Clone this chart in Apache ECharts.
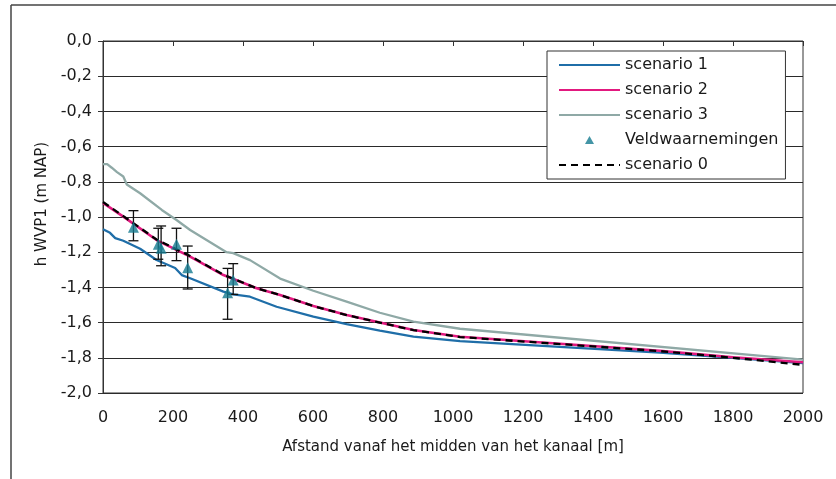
<!DOCTYPE html>
<html>
<head>
<meta charset="utf-8">
<script src="https://cdn.jsdelivr.net/npm/echarts@6/dist/echarts.min.js"></script>
<style>
html,body{margin:0;padding:0;background:#fff;}
#chart{width:836px;height:479px;}
</style>
</head>
<body>
<div id="chart"></div>
<script>
// ---- data (distance in m, head in m NAP) ----
const scenario1X = [0, 20, 35, 58, 106, 153, 206, 225, 249, 344, 372, 420, 496, 601, 696, 791, 887, 1020, 1591, 1800, 2000];
const scenario1Y = [-1.07, -1.09, -1.12, -1.135, -1.18, -1.244, -1.29, -1.33, -1.348, -1.424, -1.44, -1.453, -1.51, -1.566, -1.608, -1.646, -1.68, -1.705, -1.771, -1.80, -1.83];

const scenario2X = [0, 58, 153, 249, 344, 439, 506, 601, 696, 791, 887, 1020, 1591, 1800, 2000];
const scenario2Y = [-0.92, -0.998, -1.131, -1.225, -1.33, -1.405, -1.443, -1.506, -1.557, -1.60, -1.642, -1.68, -1.76, -1.797, -1.825];

const scenario3X = [0, 12, 25, 40, 58, 68, 106, 168, 210, 249, 353, 372, 420, 506, 601, 696, 791, 887, 1020, 2000];
const scenario3Y = [-0.70, -0.70, -0.72, -0.745, -0.77, -0.815, -0.865, -0.96, -1.017, -1.074, -1.20, -1.205, -1.245, -1.35, -1.419, -1.481, -1.544, -1.595, -1.635, -1.81];

const scenario0X = [0, 58, 153, 249, 344, 439, 506, 601, 696, 791, 887, 1020, 1591, 1800, 2000];
const scenario0Y = [-0.915, -0.995, -1.128, -1.222, -1.328, -1.405, -1.443, -1.506, -1.557, -1.60, -1.643, -1.682, -1.762, -1.80, -1.84];

const obsX    = [87, 158, 166, 210, 242, 356, 372];
const obsY    = [-1.058, -1.155, -1.178, -1.155, -1.288, -1.43, -1.358];
const obsHigh = [-0.964, -1.064, -1.051, -1.064, -1.165, -1.292, -1.265];
const obsLow  = [-1.135, -1.24, -1.277, -1.248, -1.409, -1.581, -1.44];

const xTicks = [0, 200, 400, 600, 800, 1000, 1200, 1400, 1600, 1800, 2000];
const yTicks = [0, -0.2, -0.4, -0.6, -0.8, -1.0, -1.2, -1.4, -1.6, -1.8, -2.0];

const seriesNames = ['scenario 1', 'scenario 2', 'scenario 3', 'Veldwaarnemingen', 'scenario 0'];
const xAxisName = 'Afstand vanaf het midden van het kanaal [m]';
const yAxisName = 'h WVP1 (m NAP)';

// ---- build ----
const zip = (xs, ys) => xs.map((x, i) => [x, ys[i]]);
const FONT = '"DejaVu Sans", "Open Sans", sans-serif';
const TXT = '#1a1a1a';
const hideSym = {opacity: 0};
// small centred triangle inside a 61x8 icon box (degenerate corner points fix the box size)
const triIcon = 'path://M0,0L0,0M61,8L61,8M26,8L30.5,0L35,8Z';

const chart = echarts.init(document.getElementById('chart'), null, {renderer: 'canvas'});

const option = {
  backgroundColor: '#ffffff',
  animation: false,
  textStyle: {fontFamily: FONT},
  graphic: [
    {type: 'line', shape: {x1: 11, y1: 5, x2: 840, y2: 5}, style: {stroke: '#444', lineWidth: 1.5}, silent: true},
    {type: 'line', shape: {x1: 11, y1: 5, x2: 11, y2: 485}, style: {stroke: '#444', lineWidth: 1.5}, silent: true},
    {type: 'text', x: 42, y: 204, rotation: Math.PI / 2, silent: true,
      style: {text: yAxisName, font: '15px "DejaVu Sans", sans-serif', fill: TXT,
        textAlign: 'center', textVerticalAlign: 'middle'}}
  ],
  grid: {
    left: 103, right: 33, top: 41, bottom: 86,
    show: true, borderColor: '#333', borderWidth: 1, backgroundColor: 'transparent'
  },
  legend: {
    orient: 'vertical',
    left: 547, top: 51,
    padding: [6, 7, 6, 11],
    itemWidth: 61, itemHeight: 8, itemGap: 9,
    backgroundColor: '#fff',
    borderColor: '#333', borderWidth: 1,
    textStyle: {fontFamily: FONT, fontSize: 16, color: TXT},
    data: [
      {name: 'scenario 1', itemStyle: hideSym},
      {name: 'scenario 2', itemStyle: hideSym},
      {name: 'scenario 3', itemStyle: hideSym},
      {name: 'Veldwaarnemingen', icon: triIcon},
      {name: 'scenario 0', itemStyle: hideSym}
    ]
  },
  xAxis: {
    type: 'value', min: 0, max: 2000, interval: 200,
    name: xAxisName, nameLocation: 'middle', nameGap: 47,
    nameTextStyle: {fontFamily: FONT, fontSize: 15, color: TXT},
    axisLine: {show: true, lineStyle: {color: '#333', width: 1}},
    axisTick: {show: true, inside: false, length: 5, lineStyle: {color: '#333'}},
    axisLabel: {fontFamily: FONT, fontSize: 16, color: TXT, margin: 17,
      formatter: v => xTicks.includes(v) ? String(v) : ''},
    splitLine: {show: false}
  },
  yAxis: {
    type: 'value', min: -2, max: 0, interval: 0.2,
    axisLine: {show: true, onZero: false, lineStyle: {color: '#333', width: 1}},
    axisTick: {show: true, inside: false, length: 5, lineStyle: {color: '#333'}},
    axisLabel: {fontFamily: FONT, fontSize: 16, color: TXT, margin: 11,
      formatter: v => {
        const t = yTicks.find(k => Math.abs(k - v) < 1e-6);
        if (t === undefined) return '';
        return (Math.abs(t) < 1e-9 ? 0 : t).toFixed(1).replace('.', ',');
      }},
    splitLine: {show: true, lineStyle: {color: '#2a2a2a', width: 1}}
  },
  series: [
    {
      name: 'scenario 3', type: 'line', data: zip(scenario3X, scenario3Y),
      showSymbol: false, symbol: 'none', z: 2,
      lineStyle: {color: '#8fa9a6', width: 2.3}, itemStyle: {color: '#8fa9a6'}
    },
    {
      name: 'scenario 1', type: 'line', data: zip(scenario1X, scenario1Y),
      showSymbol: false, symbol: 'none', z: 3,
      lineStyle: {color: '#1f6ea8', width: 2.3}, itemStyle: {color: '#1f6ea8'}
    },
    {
      name: 'scenario 2', type: 'line', data: zip(scenario2X, scenario2Y),
      showSymbol: false, symbol: 'none', z: 4,
      lineStyle: {color: '#e2197f', width: 2.6}, itemStyle: {color: '#e2197f'}
    },
    {
      name: 'scenario 0', type: 'line', data: zip(scenario0X, scenario0Y),
      showSymbol: false, symbol: 'none', z: 5,
      lineStyle: {color: '#000', width: 2.3, type: [7, 5]}, itemStyle: {color: '#000'}
    },
    {
      name: 'errorbars', type: 'custom', z: 6, silent: true,
      data: obsX.map((x, i) => [x, obsLow[i], obsHigh[i]]),
      renderItem: function (params, api) {
        const lo = api.coord([api.value(0), api.value(1)]);
        const hi = api.coord([api.value(0), api.value(2)]);
        const hw = 5;
        const st = {stroke: '#111', lineWidth: 1.3};
        return {
          type: 'group',
          children: [
            {type: 'line', shape: {x1: lo[0], y1: lo[1], x2: hi[0], y2: hi[1]}, style: st},
            {type: 'line', shape: {x1: lo[0] - hw, y1: lo[1], x2: lo[0] + hw, y2: lo[1]}, style: st},
            {type: 'line', shape: {x1: hi[0] - hw, y1: hi[1], x2: hi[0] + hw, y2: hi[1]}, style: st}
          ]
        };
      },
      encode: {x: 0, y: [1, 2]}
    },
    {
      name: 'Veldwaarnemingen', type: 'scatter', z: 7,
      data: zip(obsX, obsY),
      symbol: 'triangle', symbolSize: 11,
      itemStyle: {color: '#157a90'}
    }
  ]
};
chart.setOption(option);
</script>
</body>
</html>
